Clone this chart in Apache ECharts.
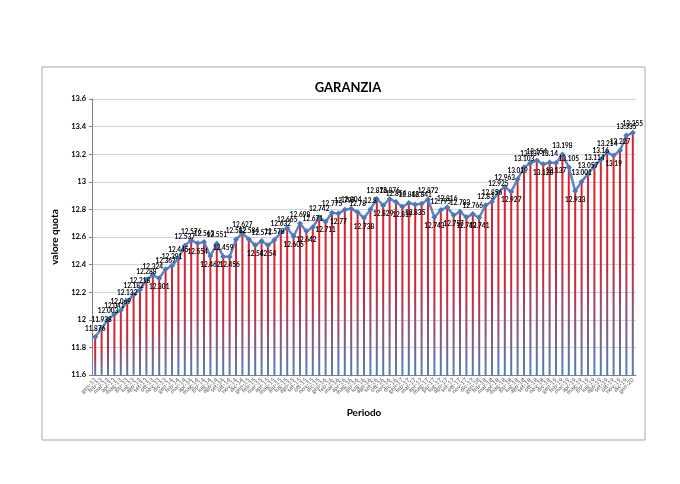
<!DOCTYPE html>
<html>
<head>
<meta charset="utf-8">
<script src="https://cdn.jsdelivr.net/npm/echarts@6/dist/echarts.min.js"></script>
<style>
html,body{margin:0;padding:0;background:#fff;}
#c{width:680px;height:484px;}
</style>
</head>
<body>
<div id="c"></div>
<script>
const categories = [
 'gen-13','feb-13','mar-13','apr-13','mag-13','giu-13','lug-13','ago-13','set-13','ott-13','nov-13','dic-13',
 'gen-14','feb-14','mar-14','apr-14','mag-14','giu-14','lug-14','ago-14','set-14','ott-14','nov-14','dic-14',
 'gen-15','feb-15','mar-15','apr-15','mag-15','giu-15','lug-15','ago-15','set-15','ott-15','nov-15','dic-15',
 'gen-16','feb-16','mar-16','apr-16','mag-16','giu-16','lug-16','ago-16','set-16','ott-16','nov-16','dic-16',
 'gen-17','feb-17','mar-17','apr-17','mag-17','giu-17','lug-17','ago-17','set-17','ott-17','nov-17','dic-17',
 'gen-18','feb-18','mar-18','apr-18','mag-18','giu-18','lug-18','ago-18','set-18','ott-18','nov-18','dic-18',
 'gen-19','feb-19','mar-19','apr-19','mag-19','giu-19','lug-19','ago-19','set-19','ott-19','nov-19','dic-19',
 'gen-20'
];
const values = [
 11.876, 11.938, 12.003, 12.041, 12.069, 12.132, 12.182, 12.218, 12.288, 12.324,
 12.301, 12.367, 12.391, 12.445, 12.537, 12.576, 12.554, 12.563, 12.462, 12.551,
 12.459, 12.456, 12.582, 12.627, 12.584, 12.54, 12.571, 12.54, 12.578, 12.632,
 12.665, 12.605, 12.698, 12.642, 12.671, 12.742, 12.711, 12.775, 12.77, 12.797,
 12.804, 12.78, 12.738, 12.8, 12.876, 12.829, 12.876, 12.854, 12.819, 12.846,
 12.835, 12.841, 12.872, 12.743, 12.795, 12.816, 12.757, 12.783, 12.743, 12.766,
 12.741, 12.83, 12.856, 12.925, 12.963, 12.927, 13.019, 13.103, 13.137, 13.154,
 13.128, 13.14, 13.137, 13.198, 13.105, 12.933, 13.001, 13.057, 13.114, 13.16,
 13.214, 13.19, 13.227, 13.335, 13.355
];
const yMin = 11.6, yMax = 13.6, yStep = 0.2;

const lineData = values.map((v, i) => {
  const isDip = i > 0 && i < values.length - 1 && v < values[i - 1] && v < values[i + 1];
  return { value: v, label: { position: isDip ? 'bottom' : 'top' } };
});

const chart = echarts.init(document.getElementById('c'), null, { renderer: 'canvas' });
chart.setOption({
  animation: false,
  backgroundColor: '#fff',
  graphic: [{
    type: 'rect', z: -1,
    shape: { x: 42, y: 67, width: 603, height: 373 },
    style: { fill: 'none', stroke: '#A6A6A6', lineWidth: 1 }
  }],
  title: {
    text: 'GARANZIA', left: 343, top: 76, textAlign: 'center',
    textStyle: { fontFamily: 'Lato', fontWeight: 'bold', fontSize: 13, color: '#000' }
  },
  grid: { left: 92, right: 44, top: 99, bottom: 109 },
  xAxis: {
    type: 'category', data: categories, boundaryGap: true,
    axisLine: { lineStyle: { color: '#7F7F7F', width: 1 } },
    axisTick: { show: false },
    axisLabel: { interval: 0, rotate: 45, fontSize: 6, color: '#595959', margin: 4, fontFamily: 'Lato' },
    name: 'Periodo', nameLocation: 'middle', nameGap: 33,
    nameTextStyle: { fontFamily: 'Lato', fontWeight: 'bold', fontSize: 10, color: '#000' }
  },
  yAxis: {
    type: 'value', min: yMin, max: yMax, interval: yStep,
    axisLine: { show: true, lineStyle: { color: '#7F7F7F', width: 1 } },
    axisTick: { show: true, length: 3, lineStyle: { color: '#7F7F7F' } },
    splitLine: { lineStyle: { color: '#C9D3E6', width: 1 } },
    axisLabel: { fontSize: 7.5, fontWeight: 'bold', color: '#000', fontFamily: 'Lato', margin: 6 },
    name: 'valore quota', nameLocation: 'middle', nameGap: 24, nameRotate: 90,
    nameTextStyle: { fontFamily: 'Lato', fontWeight: 'bold', fontSize: 10, color: '#000' }
  },
  series: [
    {
      type: 'bar', data: values, barWidth: 2, z: 1,
      itemStyle: {
        color: new echarts.graphic.LinearGradient(0, 0, 0, 1, [
          { offset: 0, color: '#E0202A' },
          { offset: 0.5, color: '#C42A3C' },
          { offset: 1, color: '#4F7FBF' }
        ])
      }
    },
    {
      type: 'line', data: lineData, z: 3,
      symbol: 'diamond', symbolSize: 6,
      lineStyle: { color: '#5B87C6', width: 2.5 },
      itemStyle: { color: '#4A78B8' },
      label: { show: true, fontSize: 6.5, fontWeight: 'bold', color: '#000', fontFamily: 'Lato', distance: 2 }
    }
  ]
});
</script>
</body>
</html>
